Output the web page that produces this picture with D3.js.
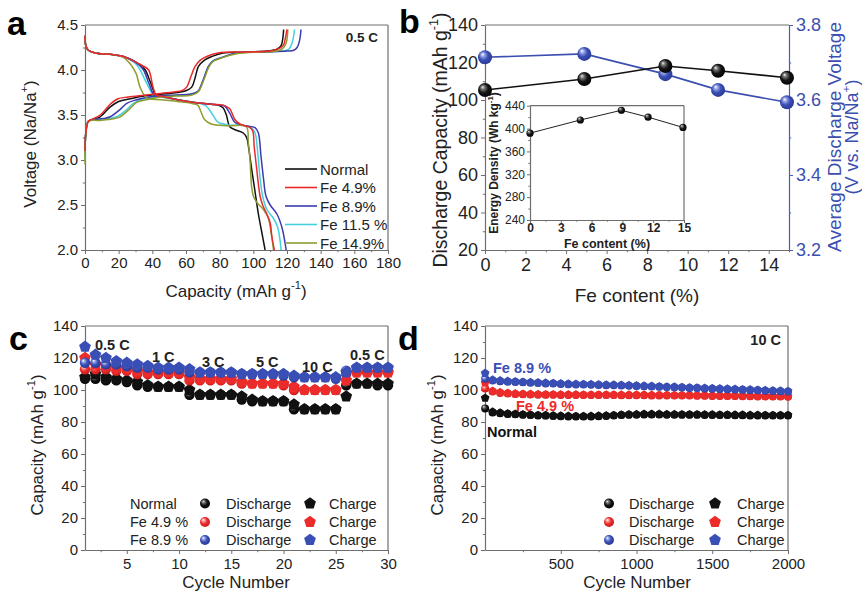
<!DOCTYPE html>
<html><head><meta charset="utf-8">
<script src="https://cdn.jsdelivr.net/npm/d3@7"></script>
<style>body{margin:0;background:#fff} svg{display:block;font-family:"Liberation Sans",Arial,sans-serif}</style>
</head><body><svg id="chart" width="862" height="598"></svg>
<script>
// ---------------- Panel a: voltage profiles [capacity, voltage] ----------------
const chgNormal=[[0,3.05],[0.5,3.3],[2,3.43],[5,3.45],[9,3.48],[15,3.59],[20,3.65],[27,3.68],[35,3.71],[45,3.73],[55,3.75],[60,3.77],[63.4,3.81],[65.5,3.92],[67.4,4.04],[71,4.11],[75.3,4.15],[82,4.19],[95,4.2],[108,4.21],[114,4.23],[116.5,4.27],[117.5,4.35],[118,4.45]];
const chgFe49=[[0,3.1],[0.5,3.3],[2,3.43],[5,3.46],[9,3.5],[15,3.62],[19.6,3.68],[25.6,3.7],[35,3.72],[45,3.74],[55,3.76],[58.5,3.78],[60.4,3.81],[63,3.93],[65.4,4.04],[68.5,4.11],[72.3,4.15],[79,4.19],[95,4.2],[110,4.21],[115.5,4.24],[118,4.28],[119,4.35],[120,4.45]];
const chgFe89=[[0,3.1],[0.5,3.3],[2,3.43],[6,3.45],[11,3.46],[15,3.48],[20.8,3.56],[24.8,3.63],[30.7,3.67],[38,3.7],[50,3.72],[62,3.73],[66,3.75],[67.4,3.77],[70.4,3.9],[73.3,4.04],[76,4.1],[80,4.13],[90,4.19],[105,4.2],[120,4.21],[124,4.22],[126,4.25],[127.5,4.33],[128.3,4.45]];
const chgFe115=[[0,3.0],[0.5,3.3],[2,3.43],[8,3.45],[14,3.46],[18.8,3.48],[24.8,3.56],[28.7,3.63],[34.7,3.68],[42,3.7],[55,3.72],[63,3.73],[66,3.75],[67.6,3.77],[70.6,3.9],[73.5,4.04],[76,4.1],[80,4.13],[90,4.19],[105,4.2],[117,4.21],[121,4.23],[123,4.3],[124.5,4.45]];
const chgFe149=[[0,2.95],[0.5,3.3],[2,3.43],[8,3.44],[14,3.45],[20.8,3.48],[26.7,3.57],[30.7,3.64],[36.6,3.67],[45,3.7],[55,3.71],[63,3.72],[66,3.74],[67.8,3.77],[70.8,3.9],[73.8,4.04],[76.5,4.1],[80.5,4.13],[90,4.18],[105,4.2],[114,4.21],[117.5,4.24],[119.5,4.3],[120.5,4.45]];
const disNormal=[[0,4.38],[0.5,4.27],[2,4.22],[6,4.19],[16.8,4.17],[22.8,4.15],[29,4.1],[33,4.05],[35.8,4.0],[38.5,3.88],[40.5,3.78],[41.8,3.72],[45,3.71],[55,3.67],[65,3.64],[75,3.62],[79,3.61],[82,3.58],[84,3.5],[86,3.37],[90,3.33],[94,3.3],[96,3.25],[97.5,3.1],[99,2.9],[101,2.65],[103,2.4],[105,2.2],[107,2.0]];
const disFe49=[[0,4.38],[0.5,4.27],[2,4.22],[6,4.19],[16.8,4.17],[22.8,4.15],[29.8,4.09],[34,4.05],[37.8,4.0],[40.4,3.81],[42.4,3.72],[45,3.71],[55,3.67],[65,3.64],[75,3.62],[82,3.61],[86,3.57],[89,3.45],[92,3.4],[97,3.37],[99.5,3.33],[100.5,3.15],[102,2.9],[104,2.6],[105.5,2.5],[108,2.4],[110,2.3],[111,2.15],[112.5,2.0]];
const disFe89=[[0,4.38],[0.5,4.27],[2,4.22],[6,4.19],[16.8,4.17],[22.8,4.15],[29,4.1],[32.5,4.05],[34.8,4.0],[38,3.85],[41.2,3.72],[45,3.71],[55,3.67],[65,3.64],[75,3.62],[80,3.61],[83,3.6],[86,3.52],[89,3.42],[95,3.38],[101,3.36],[103,3.3],[104.5,3.05],[106,2.8],[107.5,2.6],[110,2.5],[114,2.4],[117,2.25],[119.5,2.0]];
const disFe115=[[0,4.38],[0.5,4.27],[2,4.22],[6,4.19],[16.8,4.17],[22.8,4.15],[28,4.1],[31,4.05],[32.8,4.0],[37,3.84],[40.8,3.72],[45,3.7],[55,3.67],[65,3.64],[70,3.62],[72,3.6],[76,3.5],[79,3.42],[85,3.39],[98,3.37],[101,3.3],[102.5,3.1],[104,2.8],[105.5,2.6],[108,2.45],[112,2.35],[114.5,2.25],[116.5,2.0]];
const disFe149=[[0,4.38],[0.5,4.27],[2,4.22],[6,4.19],[16.8,4.17],[22.8,4.14],[26.8,4.07],[30.4,3.96],[32.7,3.81],[36.7,3.69],[45,3.67],[55,3.65],[63,3.63],[67,3.61],[69,3.53],[71,3.45],[75,3.4],[85,3.38],[95.8,3.37],[97,3.2],[98,3.0],[99,2.7],[100,2.6],[102,2.53],[106,2.45],[109,2.35],[110.5,2.2],[112,2.0]];
const aNames=["Normal","Fe 4.9%","Fe 8.9%","Fe 11.5 %","Fe 14.9%"];
const aColors=["#111111","#ea2a2a","#3a3cae","#45cfe0","#8e9c30"];
const aXTicks=[0,20,40,60,80,100,120,140,160,180];
const aYTicks=[2.0,2.5,3.0,3.5,4.0,4.5];

// ---------------- Panel b ----------------
const feContent=[0,4.9,8.9,11.5,14.9];
const dischargeCap=[105.3,111.2,118.1,115.6,111.9];
const avgVoltage=[3.714,3.723,3.669,3.627,3.594];
const energyDensity=[392,415,432,420,402];
const bXTicks=[0,2,4,6,8,10,12,14];
const bYTicks=[20,40,60,80,100,120,140];
const bY2Ticks=[3.2,3.4,3.6,3.8];
const insetXTicks=[0,3,6,9,12,15];
const insetYTicks=[240,280,320,360,400,440];

// ---------------- Panel c: rate capability ----------------
const cCycles=[1,2,3,4,5,6,7,8,9,10,11,12,13,14,15,16,17,18,19,20,21,22,23,24,25,26,27,28,29,30];
const cDisNormal=[107,107,106,106,105,103,102,102,102,102,97,97,97,97,97,94,93,93,93,93,88,88,88,88,88,103,104,104,103,103];
const cChgNormal=[108,110,108,107,106,105,103,102,102,102,100,97,97,97,97,96,94,93,93,93,91,88,88,88,88,96,104,104,104,104];
const cDisFe49=[113,113,113,112,112,110,110,110,110,110,106,106,106,106,106,104,104,104,104,103,100,100,100,100,100,110,111,111,111,111];
const cChgFe49=[120,116,115,114,113,112,111,111,111,111,108,107,107,107,107,105,104,104,104,104,102,100,100,100,100,106,111,111,111,111];
const cDisFe89=[117,117,116,116,115,114,114,113,113,113,111,111,111,111,111,110,110,110,110,109,108,108,108,108,107,112,114,114,114,114];
const cChgFe89=[127,122,120,118,117,116,115,114,114,114,113,111,111,111,111,110,110,110,110,110,109,108,108,108,108,111,114,114,114,114];
const cRateLabels=["0.5 C","1 C","3 C","5 C","10 C","0.5 C"];
const cXTicks=[5,10,15,20,25,30];
const capTicks=[0,20,40,60,80,100,120,140];

// ---------------- Panel d: long cycling at 10 C ----------------
const dCycles=[1,50,100,150,200,250,300,350,400,450,500,550,600,650,700,750,800,850,900,950,1000,1050,1100,1150,1200,1250,1300,1350,1400,1450,1500,1550,1600,1650,1700,1750,1800,1850,1900,1950,2000];
const dDisNormal=[88.5,86,85.5,85,84.8,84.5,84.3,84,84,83.8,83.6,83.5,83.4,83.4,83.5,83.6,83.8,84,84.3,84.5,84.6,84.7,84.7,84.7,84.6,84.6,84.5,84.5,84.5,84.4,84.4,84.3,84.3,84.2,84.2,84.1,84.1,84,84,84,84];
const dChgNormal=[95,86.3,85.7,85.2,85,84.7,84.5,84.2,84.1,84,83.8,83.7,83.6,83.6,83.7,83.8,84,84.2,84.5,84.7,84.8,84.9,84.9,84.9,84.8,84.8,84.7,84.7,84.7,84.6,84.6,84.5,84.5,84.4,84.4,84.3,84.3,84.2,84.2,84.2,84.2];
const dDisFe49=[101,99,98.2,97.8,97.5,97.3,97.2,97.1,97,97,96.9,96.9,96.9,96.8,96.8,96.8,96.8,96.8,96.7,96.7,96.7,96.7,96.6,96.6,96.6,96.5,96.5,96.5,96.4,96.4,96.3,96.3,96.2,96.2,96.1,96.1,96,96,95.9,95.9,95.8];
const dChgFe49=[104.5,99.3,98.5,98,97.7,97.5,97.4,97.3,97.2,97.2,97.1,97.1,97.1,97,97,97,97,97,96.9,96.9,96.9,96.9,96.8,96.8,96.8,96.7,96.7,96.7,96.6,96.6,96.5,96.5,96.4,96.4,96.3,96.3,96.2,96.2,96.1,96.1,96];
const dDisFe89=[107,106,105.5,105.2,105,104.8,104.5,104.3,104.1,104,103.8,103.6,103.5,103.4,103.3,103.2,103,103,102.8,102.7,102.5,102.4,102.2,102,101.8,101.7,101.5,101.3,101.2,101,100.8,100.6,100.5,100.3,100.1,100,99.8,99.6,99.4,99.2,99];
const dChgFe89=[110.5,106.3,105.8,105.5,105.3,105,104.8,104.6,104.4,104.2,104,103.8,103.7,103.6,103.5,103.4,103.2,103.2,103,102.9,102.7,102.6,102.4,102.2,102,101.9,101.7,101.5,101.4,101.2,101,100.8,100.7,100.5,100.3,100.2,100,99.8,99.6,99.4,99.2];
const dXTicks=[500,1000,1500,2000];
const legendNames=["Normal","Fe 4.9 %","Fe 8.9 %"];

// ================= drawing =================
const FONT='"Liberation Sans",Arial,sans-serif';
const FRAME='#6e6e6e';
const BLACK='#111111', RED='#ec2b2b', BLUE='#3a4fb6';
const svg=d3.select('#chart');
svg.append('rect').attr('width',862).attr('height',598).attr('fill','#fff');

const defs=svg.append('defs');
function grad(id,stops){
  const g=defs.append('radialGradient').attr('id',id).attr('cx','45%').attr('cy','45%').attr('r','60%').attr('fx','32%').attr('fy','28%');
  stops.forEach(s=>g.append('stop').attr('offset',s[0]).attr('stop-color',s[1]));
}
grad('gK',[[0,'#f2f2f2'],[0.22,'#777'],[0.55,'#151515'],[1,'#000']]);
grad('gR',[[0,'#ffffff'],[0.22,'#f79a9a'],[0.55,RED],[1,'#c41a1a']]);
grad('gB',[[0,'#ffffff'],[0.22,'#9aa6e6'],[0.55,BLUE],[1,'#28388f']]);
const gradOf={[BLACK]:'url(#gK)',[RED]:'url(#gR)',[BLUE]:'url(#gB)'};

function pentagon(r){let p='';for(let i=0;i<5;i++){const a=-Math.PI/2+i*2*Math.PI/5;p+=(i?'L':'M')+(r*Math.cos(a)).toFixed(2)+','+(r*Math.sin(a)).toFixed(2);}return p+'Z';}

function axis(g,orient,scale,pos,major,minor,opt){
  const mk={bottom:d3.axisBottom,left:d3.axisLeft,right:d3.axisRight,top:d3.axisTop}[orient];
  const tr=(orient==='bottom'||orient==='top')?`translate(0,${pos})`:`translate(${pos},0)`;
  const len=opt.len||4;
  const a=g.append('g').attr('transform',tr).call(mk(scale).tickValues(major).tickSize(len).tickSizeOuter(0).tickPadding(opt.pad===undefined?3:opt.pad).tickFormat(opt.fmt||null));
  a.select('.domain').attr('stroke',opt.line||FRAME).attr('stroke-width',1.2);
  a.selectAll('.tick line').attr('stroke',opt.line||FRAME).attr('stroke-width',1);
  a.selectAll('.tick text').attr('font-size',opt.fs).attr('fill',opt.color||'#222').attr('font-family',FONT).attr('font-weight',opt.bold?'bold':null);
  if(minor){
    const m=g.append('g').attr('transform',tr).call(mk(scale).tickValues(minor).tickSize(len*0.55).tickSizeOuter(0).tickFormat(''));
    m.select('.domain').remove();
    m.selectAll('line').attr('stroke',opt.line||FRAME).attr('stroke-width',1);
  }
  return a;
}
function hline(g,x0,x1,y,color){g.append('line').attr('x1',x0).attr('x2',x1).attr('y1',y).attr('y2',y).attr('stroke',color||FRAME).attr('stroke-width',1.2);}
function vline(g,x,y0,y1,color){g.append('line').attr('x1',x).attr('x2',x).attr('y1',y0).attr('y2',y1).attr('stroke',color||FRAME).attr('stroke-width',1.2);}

function rich(g,x,y,parts,fs,opt){
  opt=opt||{};
  const t=g.append('text').attr('font-family',FONT).attr('font-size',fs).attr('fill',opt.color||'#222')
    .attr('text-anchor',opt.anchor||'middle').attr('font-weight',opt.bold?'bold':null);
  if(opt.rotate){t.attr('transform',`translate(${x},${y}) rotate(-90)`);}else{t.attr('x',x).attr('y',y);}
  let shifted=false;
  parts.forEach(p=>{
    const s=t.append('tspan').text(p[0]);
    if(p[1]){s.attr('font-size',fs*0.65).attr('dy',-fs*0.45);shifted=true;}
    else if(shifted){s.attr('dy',fs*0.45);shifted=false;}
  });
  return t;
}
function label(g,x,y,txt,fs,opt){
  opt=opt||{};
  return g.append('text').attr('x',x).attr('y',y).attr('font-family',FONT).attr('font-size',fs)
    .attr('font-weight',opt.bold?'bold':null).attr('fill',opt.color||'#222').attr('text-anchor',opt.anchor||'start').text(txt);
}

// ---------- Panel a ----------
(function(){
  const g=svg.append('g');
  const x=d3.scaleLinear([0,180],[85,388]);
  const y=d3.scaleLinear([2,4.5],[250,25]);
  hline(g,85,388,25); vline(g,388,25,250);
  axis(g,'left',y,85,aYTicks,[2.25,2.75,3.25,3.75,4.25],{fs:15,fmt:d3.format('.1f')});
  axis(g,'bottom',x,250,aXTicks,[10,30,50,70,90,110,130,150,170],{fs:15});
  const line=d3.line().x(d=>x(d[0])).y(d=>y(d[1])).curve(d3.curveCatmullRom.alpha(0.5));
  const chg=[chgNormal,chgFe49,chgFe89,chgFe115,chgFe149];
  const dis=[disNormal,disFe49,disFe89,disFe115,disFe149];
  [0,3,2,4,1].forEach(i=>{
    g.append('path').attr('d',line(chg[i])).attr('fill','none').attr('stroke',aColors[i]).attr('stroke-width',1.5);
    g.append('path').attr('d',line(dis[i])).attr('fill','none').attr('stroke',aColors[i]).attr('stroke-width',1.5);
  });
  const rowY=[169,187.5,206,224.5,243];
  aNames.forEach((n,i)=>{
    g.append('line').attr('x1',285).attr('x2',317).attr('y1',rowY[i]).attr('y2',rowY[i]).attr('stroke',aColors[i]).attr('stroke-width',1.6);
    label(g,320,rowY[i]+5.5,n,15);
  });
  label(g,378,42,'0.5 C',13.5,{bold:true,anchor:'end'});
  rich(g,236,297,[['Capacity (mAh g'],['-1',1],[')']],17);
  rich(g,36,144,[['Voltage (Na/Na'],['+',1],[')']],17,{rotate:true});
  label(g,7,35,'a',34,{bold:true,color:'#000'});
})();

// ---------- Panel b ----------
(function(){
  const g=svg.append('g');
  const x=d3.scaleLinear([0,15],[485,789]);
  const y=d3.scaleLinear([20,140],[250,25]);
  const y2=d3.scaleLinear([3.2,3.8],[250,25]);
  hline(g,485,789,25);
  axis(g,'left',y,485,bYTicks,[30,50,70,90,110,130],{fs:18});
  axis(g,'bottom',x,250,bXTicks,[1,3,5,7,9,11,13,15],{fs:18,pad:4});
  axis(g,'right',y2,789,bY2Ticks,[3.3,3.5,3.7],{fs:18,color:'#3b4fb0',line:'#4a5cb5',fmt:d3.format('.1f')});
  // inset
  const ix=d3.scaleLinear([0,15],[530,684]);
  const iy=d3.scaleLinear([240,440],[220,105.7]);
  g.append('rect').attr('x',530).attr('y',105.7).attr('width',154).attr('height',114.3).attr('fill','#fff');
  hline(g,530,684,105.7); vline(g,684,105.7,220);
  axis(g,'left',iy,530,insetYTicks,[260,300,340,380,420],{fs:12,len:3,pad:2});
  axis(g,'bottom',ix,220,insetXTicks,[1.5,4.5,7.5,10.5,13.5],{fs:12,len:3,pad:0,bold:true});
  g.append('path').attr('d',d3.line().x((d,i)=>ix(feContent[i])).y(d=>iy(d))(energyDensity)).attr('fill','none').attr('stroke','#222').attr('stroke-width',1);
  g.selectAll(null).data(energyDensity).enter().append('circle').attr('cx',(d,i)=>ix(feContent[i])).attr('cy',d=>iy(d)).attr('r',3.6).attr('fill','url(#gK)');
  label(g,607,248,'Fe content (%)',12.5,{bold:true,anchor:'middle'});
  rich(g,498,163,[['Energy Density (Wh kg'],['-1',1],[')']],12,{rotate:true,bold:true});
  // main series
  const lineK=d3.line().x((d,i)=>x(feContent[i])).y(d=>y(d));
  const lineB=d3.line().x((d,i)=>x(feContent[i])).y(d=>y2(d));
  g.append('path').attr('d',lineB(avgVoltage)).attr('fill','none').attr('stroke','#3b4fb0').attr('stroke-width',1.6);
  g.append('path').attr('d',lineK(dischargeCap)).attr('fill','none').attr('stroke','#111').attr('stroke-width',1.6);
  g.selectAll(null).data(avgVoltage).enter().append('circle').attr('cx',(d,i)=>x(feContent[i])).attr('cy',d=>y2(d)).attr('r',7).attr('fill','url(#gB)');
  g.selectAll(null).data(dischargeCap).enter().append('circle').attr('cx',(d,i)=>x(feContent[i])).attr('cy',d=>y(d)).attr('r',7).attr('fill','url(#gK)');
  label(g,637,302,'Fe content (%)',19,{anchor:'middle'});
  rich(g,447,140,[['Discharge Capacity (mAh g'],['-1',1],[')']],19.5,{rotate:true});
  rich(g,841,137,[['Average Discharge Voltage']],19,{rotate:true,color:'#3b4fb0'});
  rich(g,858,137,[['(V vs. Na/Na'],['+',1],[')']],18,{rotate:true,color:'#3b4fb0'});
  label(g,399,33,'b',34,{bold:true,color:'#000'});
})();

function markers(g,x,y,xs,vals,color,kind,r){
  const sel=g.selectAll(null).data(vals).enter();
  if(kind==='dis'){
    sel.append('circle').attr('cx',(d,i)=>x(xs[i])).attr('cy',d=>y(d)).attr('r',r).attr('fill',gradOf[color]);
  }else{
    sel.append('path').attr('d',pentagon(r)).attr('transform',(d,i)=>`translate(${x(xs[i])},${y(d)})`).attr('fill',color);
  }
}
function legend(g,xs,rows,names){
  const cols=[BLACK,RED,BLUE];
  rows.forEach((ry,i)=>{
    if(names) label(g,xs[0],ry+5,names[i],14.5);
    g.append('circle').attr('cx',xs[1]).attr('cy',ry).attr('r',5).attr('fill',gradOf[cols[i]]);
    label(g,xs[2],ry+5,'Discharge',14.5);
    g.append('path').attr('d',pentagon(6.2)).attr('transform',`translate(${xs[3]},${ry})`).attr('fill',cols[i]);
    label(g,xs[4],ry+5,'Charge',14.5);
  });
}

// ---------- Panel c ----------
(function(){
  const g=svg.append('g');
  const x=d3.scaleLinear([1,30],[85,388]);
  const y=d3.scaleLinear([0,140],[550,326]);
  hline(g,85,388,326); vline(g,388,326,550);
  axis(g,'left',y,85,capTicks,[10,30,50,70,90,110,130],{fs:15});
  axis(g,'bottom',x,550,cXTicks,[2.5,7.5,12.5,17.5,22.5,27.5],{fs:15,pad:4});
  const sets=[[cDisNormal,cChgNormal,BLACK],[cDisFe49,cChgFe49,RED],[cDisFe89,cChgFe89,BLUE]];
  sets.forEach(s=>{markers(g,x,y,cCycles,s[0],s[2],'dis',5.2);markers(g,x,y,cCycles,s[1],s[2],'chg',6.2);});
  const pos=[[95,350],[152,362],[202,367],[256,367],[302,372],[350,360]];
  cRateLabels.forEach((t,i)=>label(g,pos[i][0],pos[i][1],t,14.5,{bold:true}));
  legend(g,[130,205,226,310,329],[503.5,522,540],legendNames);
  rich(g,236,588,[['Cycle Number']],17);
  rich(g,43,445,[['Capacity (mAh g'],['-1',1],[')']],17,{rotate:true});
  label(g,9,350,'c',34,{bold:true,color:'#000'});
})();

// ---------- Panel d ----------
(function(){
  const g=svg.append('g');
  const x=d3.scaleLinear([0,2000],[485,788]);
  const y=d3.scaleLinear([0,140],[550,326]);
  hline(g,485,788,326); vline(g,788,326,550);
  axis(g,'left',y,485,capTicks,[10,30,50,70,90,110,130],{fs:15});
  axis(g,'bottom',x,550,dXTicks,[250,750,1250,1750],{fs:15,pad:4,fmt:d3.format('d')});
  const sets=[[dDisNormal,dChgNormal,BLACK],[dDisFe49,dChgFe49,RED],[dDisFe89,dChgFe89,BLUE]];
  sets.forEach(s=>{markers(g,x,y,dCycles,s[0],s[2],'dis',4);markers(g,x,y,dCycles,s[1],s[2],'chg',4.6);});
  label(g,781,345,'10 C',14.5,{bold:true,anchor:'end'});
  label(g,493,373,'Fe 8.9 %',14.5,{bold:true,color:BLUE});
  label(g,516,411,'Fe 4.9 %',14.5,{bold:true,color:RED});
  label(g,487,437,'Normal',14.5,{bold:true,color:'#111'});
  legend(g,[0,609,629,715,737],[503.5,522,540],null);
  rich(g,637,588,[['Cycle Number']],17);
  rich(g,443,445,[['Capacity (mAh g'],['-1',1],[')']],17,{rotate:true});
  label(g,398,350,'d',34,{bold:true,color:'#000'});
})();
</script></body></html>
